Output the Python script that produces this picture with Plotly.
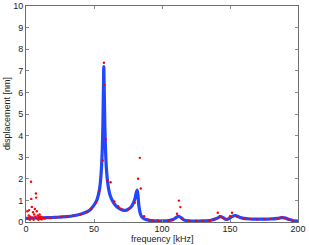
import plotly.graph_objects as go

# Blue fitted curve (frequency kHz, displacement nm)
curve_f = [0, 5, 10, 15, 20, 25, 30, 35, 40, 44, 47, 50, 52, 54, 55, 56, 56.5, 57, 57.2, 57.5, 58, 58.5, 59, 60, 61, 62, 64, 66, 68, 70, 72, 74, 76, 78, 80, 81, 81.8, 82.4, 83, 84, 85, 87, 90, 95, 100, 105, 108, 110, 112, 114, 116, 120, 130, 136, 140, 143, 145, 147, 149, 152, 154, 157, 160, 165, 170, 175, 180, 185, 188, 190, 193, 196, 200]
curve_y = [0.17, 0.18, 0.19, 0.2, 0.21, 0.23, 0.25, 0.29, 0.36, 0.45, 0.56, 0.78, 1.0, 1.5, 2.05, 3.2, 4.4, 6.4, 7.2, 6.2, 4.4, 3.3, 2.6, 1.85, 1.45, 1.2, 0.93, 0.76, 0.65, 0.58, 0.54, 0.55, 0.62, 0.76, 1.05, 1.35, 1.48, 1.2, 0.75, 0.4, 0.25, 0.14, 0.08, 0.05, 0.05, 0.07, 0.12, 0.19, 0.27, 0.2, 0.1, 0.05, 0.05, 0.08, 0.16, 0.25, 0.2, 0.12, 0.15, 0.27, 0.3, 0.22, 0.17, 0.14, 0.13, 0.13, 0.14, 0.17, 0.2, 0.19, 0.13, 0.07, 0.04]

# Red measured points
meas_f = [1, 1.5, 2, 2.3, 2.8, 3.2, 3.7, 3.9, 4.3, 4.8, 5.2, 5.6, 6, 6.5, 7, 7.3, 7.5, 7.9, 8.3, 8.7, 9.1, 9.6, 10, 10.5, 11, 11.5, 12, 13, 14, 16, 18, 22, 26, 30, 35, 40, 45, 48, 51.5, 53.9, 56.4, 57.3, 57.8, 58.6, 60, 62.2, 65, 67.8, 70, 75, 80, 82.4, 83.7, 84.4, 86.8, 89.8, 93, 97, 100, 105, 107.5, 111, 112.4, 113.5, 115, 120, 125, 130, 135, 138, 141, 142.7, 145, 148, 150, 151.5, 155, 160, 165, 170, 175, 180, 185, 188, 190, 193, 196]
meas_y = [0.5, 0.15, 0.3, 0.55, 0.1, 0.25, 1.86, 1.07, 0.7, 0.2, 0.45, 0.1, 0.35, 0.6, 0.25, 1.32, 1.13, 0.5, 0.15, 0.3, 0.1, 0.22, 0.35, 0.15, 0.25, 0.12, 0.2, 0.18, 0.16, 0.2, 0.19, 0.21, 0.23, 0.25, 0.3, 0.35, 0.46, 0.6, 0.93, 1.43, 2.85, 7.37, 6.35, 3.83, 1.9, 1.84, 0.95, 0.73, 0.6, 0.58, 0.89, 2.0, 2.97, 1.55, 0.27, 0.12, 0.06, 0.08, 0.05, 0.07, 0.1, 0.38, 0.99, 0.69, 0.15, 0.05, 0.06, 0.05, 0.08, 0.12, 0.43, 0.27, 0.18, 0.12, 0.27, 0.43, 0.25, 0.16, 0.14, 0.12, 0.13, 0.15, 0.16, 0.22, 0.18, 0.12, 0.06]

x_ticks = [0, 50, 100, 150, 200]
y_ticks = [0, 1, 2, 3, 4, 5, 6, 7, 8, 9, 10]

FONT = "Liberation Sans, Arial, sans-serif"

fig = go.Figure()
fig.add_trace(go.Scatter(x=curve_f, y=curve_y, mode="lines",
                         line=dict(color="rgb(35,70,255)", width=3.2, shape="spline", smoothing=0.6),
                         hoverinfo="skip", showlegend=False))
fig.add_trace(go.Scatter(x=meas_f, y=meas_y, mode="markers",
                         marker=dict(color="rgb(255,0,0)", size=2.4, line=dict(width=0)),
                         showlegend=False))

axis_common = dict(showgrid=False, zeroline=False, showline=True, linecolor="#6e6e6e", linewidth=1,
                   mirror="allticks", ticks="inside", ticklen=3, tickcolor="#8a8a8a", automargin=False,
                   tickfont=dict(family=FONT, size=9, color="#222"))

fig.update_xaxes(range=[0, 200], tickvals=x_ticks, ticktext=[str(v) for v in x_ticks],
                 ticklabelstandoff=-2, **axis_common)
fig.update_yaxes(range=[0, 10], tickvals=y_ticks, ticktext=[str(v) for v in y_ticks], **axis_common)

fig.update_layout(
    width=309, height=245,
    margin=dict(l=26, r=11, t=6, b=23),
    plot_bgcolor="white", paper_bgcolor="white",
    annotations=[
        dict(text="frequency [kHz]", xref="paper", yref="paper", x=0.5, y=0, yshift=-24,
             showarrow=False, xanchor="center", yanchor="bottom",
             font=dict(family=FONT, size=9, color="#222")),
        dict(text="displacement [nm]", xref="paper", yref="paper", x=0, y=0.5, xshift=-19,
             showarrow=False, xanchor="center", yanchor="middle", textangle=-90,
             font=dict(family=FONT, size=9, color="#222")),
    ],
)

fig.write_html("out.html", config={"displayModeBar": False},
               post_script="document.body.style.margin='0';document.body.style.overflow='hidden';")
